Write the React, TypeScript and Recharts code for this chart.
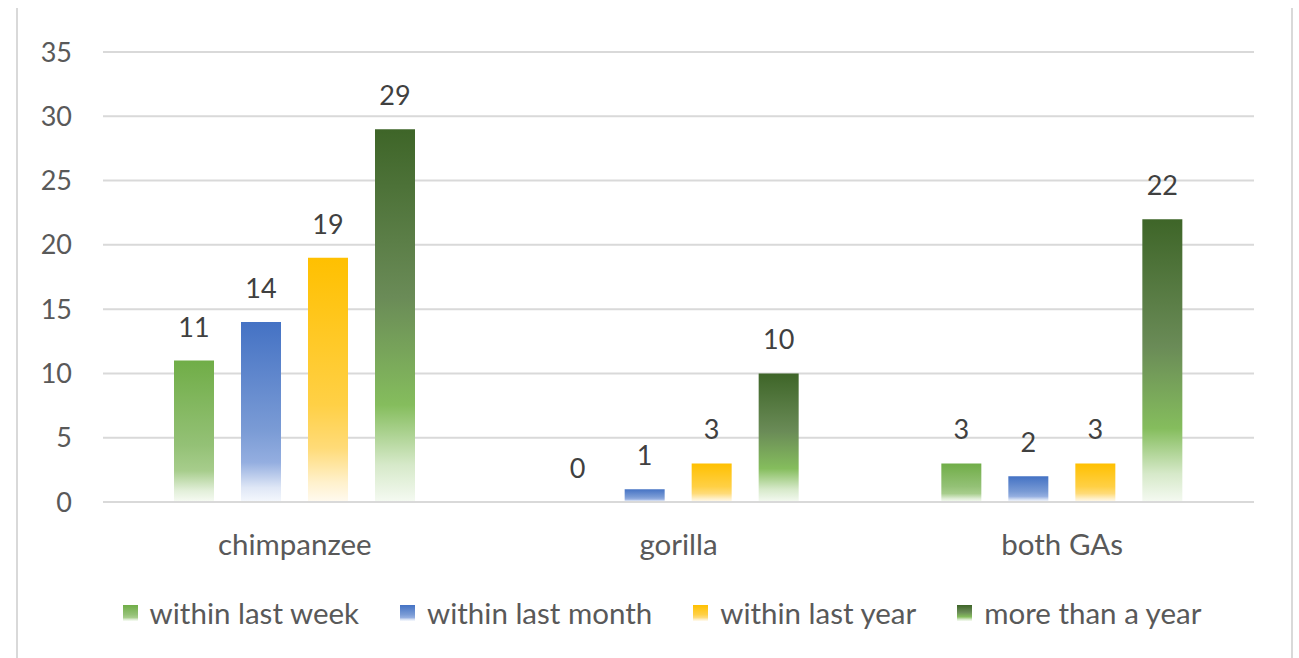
import { BarChart, Bar, XAxis, YAxis, CartesianGrid, LabelList, Legend } from 'recharts'

const categories = ['chimpanzee', 'gorilla', 'both GAs']
const withinLastWeek = [11, 0, 3]
const withinLastMonth = [14, 1, 2]
const withinLastYear = [19, 3, 3]
const moreThanAYear = [29, 10, 22]
const yTicks = [0, 5, 10, 15, 20, 25, 30, 35]

const FONT = 'Lato, "Open Sans", sans-serif'
const TEXT = '#595959'
const GRID = '#d9d9d9'
const NUM_SIZE = 27
const WORD_SIZE = 29.5

// each series fades from its solid colour at the top down to near white
const series = [
  {
    key: 'week',
    name: 'within last week',
    values: withinLastWeek,
    stops: [
      [0, '#70ad47'],
      [0.6, '#94c176'],
      [0.78, '#a7cd8c'],
      [0.92, '#e2efd9'],
      [1, '#f7fbf4'],
    ],
  },
  {
    key: 'month',
    name: 'within last month',
    values: withinLastMonth,
    stops: [
      [0, '#4472c4'],
      [0.6, '#7a9bd5'],
      [0.78, '#94aee0'],
      [0.92, '#dfe7f6'],
      [1, '#f5f8fd'],
    ],
  },
  {
    key: 'year',
    name: 'within last year',
    values: withinLastYear,
    stops: [
      [0, '#ffc000'],
      [0.6, '#ffd045'],
      [0.78, '#ffdb78'],
      [0.92, '#fff1cc'],
      [1, '#fffaf0'],
    ],
  },
  {
    key: 'more',
    name: 'more than a year',
    values: moreThanAYear,
    stops: [
      [0, '#3e6528'],
      [0.45, '#6a8b57'],
      [0.74, '#85bd5d'],
      [0.9, '#d6e9c9'],
      [1, '#f5faf2'],
    ],
  },
]

const rows = categories.map((name, i) => {
  const row: Record<string, string | number> = { name }
  series.forEach((s) => {
    row[s.key] = s.values[i]
  })
  return row
})

// keeps zero bars in the layout (hairline) so their "0" label still gets drawn
const zeroBarSize = (value: number) => (value === 0 ? 0.01 : 0)

// value label drawn above the bar
function ValueLabel(props: any) {
  const { x, y, width, value } = props
  return (
    <text
      x={x + width / 2}
      y={y - 24}
      textAnchor="middle"
      fill="#404040"
      fontSize={NUM_SIZE}
      fontFamily={FONT}
    >
      {value}
    </text>
  )
}

function LegendContent() {
  return (
    <div
      style={{
        display: 'flex',
        justifyContent: 'center',
        gap: 41,
        fontFamily: FONT,
        fontSize: WORD_SIZE,
        color: TEXT,
        marginLeft: 70,
      }}
    >
      {series.map((s) => (
        <div key={s.key} style={{ display: 'flex', alignItems: 'center', gap: 12 }}>
          <svg width={15} height={16}>
            <rect width={15} height={16} fill={`url(#grad-${s.key})`} />
          </svg>
          <span>{s.name}</span>
        </div>
      ))}
    </div>
  )
}

export default function App() {
  return (
    <div style={{ position: 'relative', width: 1299, height: 658, background: '#fff' }}>
      <style>{`body { margin: 0; }`}</style>
      <div style={{ position: 'absolute', left: 16, top: 8, width: 2, height: 650, background: GRID }} />
      <div style={{ position: 'absolute', left: 1291, top: 8, width: 2, height: 650, background: GRID }} />
      <BarChart
        width={1299}
        height={658}
        data={rows}
        margin={{ top: 52, right: 45, bottom: 0, left: 0 }}
        barSize={40}
        barGap={27}
      >
        <defs>
          {series.map((s) => (
            <linearGradient key={s.key} id={`grad-${s.key}`} x1="0" y1="0" x2="0" y2="1">
              {s.stops.map(([offset, color]) => (
                <stop key={offset} offset={offset} stopColor={color as string} />
              ))}
            </linearGradient>
          ))}
        </defs>
        <CartesianGrid vertical={false} stroke={GRID} strokeWidth={2} />
        <XAxis
          dataKey="name"
          axisLine={{ stroke: GRID, strokeWidth: 2 }}
          tickLine={false}
          height={121}
          tickMargin={26}
          tick={{ fill: TEXT, fontSize: WORD_SIZE, fontFamily: FONT }}
        />
        <YAxis
          domain={[0, 35]}
          ticks={yTicks}
          interval={0}
          width={103}
          axisLine={false}
          tickLine={false}
          tickSize={0}
          tickMargin={31}
          tick={{ fill: TEXT, fontSize: NUM_SIZE, fontFamily: FONT }}
        />
        <Legend verticalAlign="bottom" wrapperStyle={{ bottom: 28 }} content={<LegendContent />} />
        {series.map((s) => (
          <Bar
            key={s.key}
            dataKey={s.key}
            name={s.name}
            fill={`url(#grad-${s.key})`}
            minPointSize={zeroBarSize}
            isAnimationActive={false}
          >
            <LabelList dataKey={s.key} content={ValueLabel} />
          </Bar>
        ))}
      </BarChart>
    </div>
  )
}
